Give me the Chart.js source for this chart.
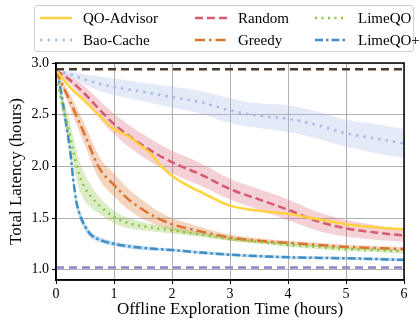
<!DOCTYPE html>
<html>
<head>
<meta charset="utf-8">
<script src="https://cdn.jsdelivr.net/npm/chart.js@4.4.1/dist/chart.umd.min.js"></script>
<style>
  html, body { margin: 0; padding: 0; background: #fff; }
  #wrap { position: relative; width: 419px; height: 324px; }
  #c { position: absolute; left: 0; top: 0; }
  #legend { position: absolute; left: 34px; top: 5px; width: 380px; height: 47px; box-sizing: border-box;
            border: 1px solid #cfcfcf; border-radius: 3px; background: rgba(255,255,255,0.85);
            font-family: "Liberation Serif", "Times New Roman", serif; font-size: 15px; color: #000; }
  .item { position: absolute; height: 20px; line-height: 20px; white-space: nowrap; }
  .item svg { position: absolute; top: 5px; }
  .item span { position: absolute; top: 0; }
</style>
</head>
<body>
<div id="wrap">
  <canvas id="c" width="419" height="324"></canvas>
  <div id="legend"></div>
</div>
<script>
// ---- data ----
const xTicks = [0, 1, 2, 3, 4, 5, 6];
const yTicks = [1.0, 1.5, 2.0, 2.5, 3.0];
const refLines = [2.94, 1.02];

const qoT = [0,0.25,0.5,0.75,1,1.25,1.5,1.6,1.8,2,2.25,2.5,2.75,3,3.5,4,4.5,5,5.5,6];
const qoY = [2.93,2.76,2.63,2.49,2.36,2.29,2.18,2.14,2.01,1.91,1.82,1.75,1.68,1.62,1.57,1.54,1.49,1.44,1.41,1.39];

const bT = [0,0.25,0.5,0.75,1,1.5,2,2.5,3,3.5,4,4.5,5,5.5,6];
const bY = [2.93,2.89,2.84,2.80,2.77,2.72,2.67,2.62,2.54,2.49,2.46,2.40,2.32,2.27,2.22];
const bS = [0,0.03,0.05,0.07,0.08,0.09,0.10,0.11,0.12,0.12,0.13,0.13,0.13,0.14,0.14];

const rT = [0,0.25,0.5,0.75,1,1.5,2,2.5,3,3.5,4,4.5,5,5.5,6];
const rY = [2.93,2.83,2.70,2.55,2.41,2.20,2.04,1.92,1.78,1.68,1.58,1.47,1.40,1.36,1.33];
const rS = [0,0.04,0.07,0.09,0.10,0.11,0.11,0.11,0.10,0.10,0.10,0.09,0.08,0.07,0.06];

const gT = [0,0.1,0.25,0.5,0.75,1,1.25,1.5,1.75,2,2.5,3,3.5,4,4.5,5,5.5,6];
const gY = [2.93,2.80,2.62,2.30,1.98,1.82,1.68,1.58,1.50,1.44,1.37,1.31,1.28,1.26,1.24,1.22,1.21,1.20];
const gS = [0,0.04,0.07,0.10,0.11,0.11,0.10,0.09,0.07,0.06,0.04,0.03,0.025,0.02,0.02,0.02,0.02,0.02];

const lT = [0,0.05,0.1,0.2,0.3,0.4,0.5,0.6,0.75,1,1.25,1.5,2,2.5,3,3.5,4,4.5,5,5.5,6];
const lY = [2.93,2.75,2.62,2.40,2.14,1.92,1.79,1.71,1.62,1.51,1.45,1.42,1.38,1.34,1.30,1.27,1.24,1.22,1.20,1.19,1.175];
const lS = [0,0.05,0.08,0.12,0.14,0.14,0.13,0.11,0.08,0.06,0.05,0.04,0.03,0.025,0.02,0.02,0.02,0.02,0.02,0.02,0.02];

const pT = [0,0.05,0.1,0.15,0.2,0.25,0.3,0.35,0.4,0.5,0.6,0.75,1,1.5,2,2.5,3,4,5,6];
const pY = [2.93,2.83,2.68,2.50,2.32,2.12,1.86,1.66,1.55,1.42,1.34,1.29,1.25,1.21,1.19,1.165,1.145,1.12,1.11,1.095];
const pS = [0,0.03,0.05,0.06,0.06,0.06,0.06,0.05,0.05,0.04,0.03,0.025,0.02,0.02,0.015,0.015,0.015,0.015,0.015,0.015];

// ---- styles ----
const series = [
  { name: 'QO-Advisor', t: qoT, y: qoY, s: null, color: '#ffd23f', band: null, dash: [] },
  { name: 'Random',     t: rT,  y: rY,  s: rS,   color: '#d65a70', band: 'rgba(214,90,112,0.28)', dash: [8,4] },
  { name: 'LimeQO',     t: lT,  y: lY,  s: lS,   color: '#8cc43f', band: 'rgba(140,196,63,0.30)', dash: [2,4.5] },
  { name: 'Bao-Cache',  t: bT,  y: bY,  s: bS,   color: '#a8bbe8', band: 'rgba(168,187,232,0.30)', dash: [2.5,5] },
  { name: 'Greedy',     t: gT,  y: gY,  s: gS,   color: '#dc7430', band: 'rgba(220,116,48,0.30)', dash: [10,4,2.5,4] },
  { name: 'LimeQO+',    t: pT,  y: pY,  s: pS,   color: '#3d8fc6', band: 'rgba(61,143,198,0.30)', dash: [8,3,2.5,3] }
];

const pts = (t, y) => t.map((v, i) => ({ x: v, y: y[i] }));
const datasets = [];
series.forEach(s => {
  if (s.s) {
    datasets.push({ data: pts(s.t, s.y.map((v, i) => v + s.s[i])), borderWidth: 0, pointRadius: 0,
      fill: false, cubicInterpolationMode: 'monotone', order: 20 });
    datasets.push({ data: pts(s.t, s.y.map((v, i) => v - s.s[i])), borderWidth: 0, pointRadius: 0,
      fill: '-1', backgroundColor: s.band, cubicInterpolationMode: 'monotone', order: 20 });
  }
});
series.forEach(s => {
  datasets.push({ label: s.name, data: pts(s.t, s.y), borderColor: s.color, borderWidth: 2.5,
    borderDash: s.dash, pointRadius: 0, fill: false, cubicInterpolationMode: 'monotone', order: 5 });
});
datasets.push({ data: [{x: xTicks[0], y: refLines[0]}, {x: xTicks[xTicks.length-1], y: refLines[0]}],
  borderColor: '#4a3b2d', borderWidth: 2.5, borderDash: [8,5], pointRadius: 0, fill: false, order: 1 });
datasets.push({ data: [{x: xTicks[0], y: refLines[1]}, {x: xTicks[xTicks.length-1], y: refLines[1]}],
  borderColor: '#8a86c8', borderWidth: 2.5, borderDash: [8,5], pointRadius: 0, fill: false, order: 1 });

const FONT = "'Liberation Serif', 'Times New Roman', serif";

const framePlugin = {
  id: 'frame',
  afterDraw(chart) {
    const { ctx, chartArea: a } = chart;
    ctx.save();
    ctx.strokeStyle = '#000';
    ctx.lineWidth = 1.5;
    ctx.strokeRect(a.left, a.top, a.right - a.left, a.bottom - a.top);
    ctx.restore();
  }
};

new Chart(document.getElementById('c'), {
  type: 'line',
  data: { datasets },
  plugins: [framePlugin],
  options: {
    responsive: false,
    animation: false,
    layout: { padding: { left: 0, top: 63, right: 15, bottom: 0 } },
    plugins: { legend: { display: false }, tooltip: { enabled: false } },
    scales: {
      x: {
        type: 'linear', min: 0, max: 6,
        afterFit(scale) { scale.height = 44; },
        afterBuildTicks(scale) { scale.ticks = xTicks.map(v => ({ value: v })); },
        ticks: { color: '#000', font: { family: FONT, size: 14 }, padding: 2, maxRotation: 0,
                 callback: v => String(v) },
        grid: { color: '#b0b0b0', lineWidth: 1, tickColor: '#000', tickLength: 4 },
        border: { color: '#000', width: 1.5 },
        title: { display: true, text: 'Offline Exploration Time (hours)', color: '#000',
                 font: { family: FONT, size: 17 }, padding: { top: 0, bottom: 4 } }
      },
      y: {
        type: 'linear', min: 0.9, max: 3.0,
        afterFit(scale) { scale.width = 56; },
        afterBuildTicks(scale) { scale.ticks = yTicks.map(v => ({ value: v })); },
        ticks: { color: '#000', font: { family: FONT, size: 14 }, padding: 3,
                 callback: v => Number(v).toFixed(1) },
        grid: { color: '#b0b0b0', lineWidth: 1, tickColor: '#000', tickLength: 4 },
        border: { color: '#000', width: 1.5 },
        title: { display: true, text: 'Total Latency (hours)', color: '#000',
                 font: { family: FONT, size: 17 }, padding: { top: 6, bottom: 0 } }
      }
    }
  }
});

// ---- legend (HTML, column-major like the reference) ----
const legendPos = {
  'QO-Advisor': [4, 2], 'Bao-Cache': [4, 24],
  'Random': [159, 2], 'Greedy': [159, 24],
  'LimeQO': [279, 2], 'LimeQO+': [279, 24]
};
const lg = document.getElementById('legend');
series.forEach(s => {
  const [lx, ly] = legendPos[s.name];
  const d = document.createElement('div');
  d.className = 'item';
  d.style.left = lx + 'px';
  d.style.top = ly + 'px';
  const dash = s.dash.length ? s.dash.join(' ') : 'none';
  d.innerHTML = '<svg width="34" height="10"><line x1="1" y1="5" x2="33" y2="5" stroke="' + s.color +
    '" stroke-width="2.5" stroke-dasharray="' + dash + '"/></svg><span style="left:44px">' + s.name + '</span>';
  lg.appendChild(d);
});
</script>
</body>
</html>
